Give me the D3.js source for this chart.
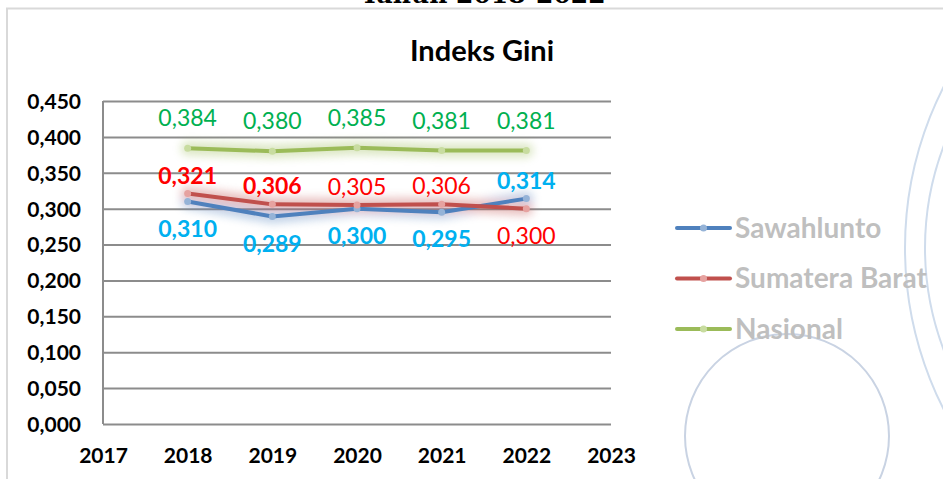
<!DOCTYPE html>
<html lang="id">
<head>
<meta charset="UTF-8">
<title>Indeks Gini</title>
<style>
    body { margin: 0; background: #fff; }
    svg { display: block; }
    text { font-family: Lato, "Open Sans", sans-serif; }
</style>
</head>
<body>
<svg id="chart"></svg>
<script src="https://d3js.org/d3.v7.min.js"></script>
<script>
    const years = [2018, 2019, 2020, 2021, 2022];
    const yTicks = [0, 0.05, 0.1, 0.15, 0.2, 0.25, 0.3, 0.35, 0.4, 0.45];
    const xTicks = [2017, 2018, 2019, 2020, 2021, 2022, 2023];

    const sawahlunto = [0.310, 0.289, 0.300, 0.295, 0.314];
    const sumbar = [0.321, 0.306, 0.305, 0.306, 0.300];
    const nasional = [0.384, 0.380, 0.385, 0.381, 0.381];

    // label placement per point: above / below, bold or not
    const sawahluntoPos = ["below", "below", "below", "below", "above"];
    const sumbarPos = ["above", "above", "above", "above", "below"];
    const sumbarBold = [true, true, false, false, false];

    const series = [
        { name: "Sawahlunto", values: sawahlunto, line: "#4f81bd", marker: "#95b3d7", label: "#00b0f0", pos: sawahluntoPos, bold: [true, true, true, true, true], up: 18 },
        { name: "Sumatera Barat", values: sumbar, line: "#c0504d", marker: "#e6a2a0", label: "#ff0000", pos: sumbarPos, bold: sumbarBold, up: 18 },
        { name: "Nasional", values: nasional, line: "#9bbb59", marker: "#c8dca0", label: "#00b050", pos: ["above", "above", "above", "above", "above"], bold: [false, false, false, false, false], up: 30 }
    ];

    const width = 943, height = 479;
    const svg = d3.select("#chart").attr("width", width).attr("height", height);

    const fmt = v => d3.format(".3f")(v).replace(".", ",");

    // blur filter for the soft glow
    const defs = svg.append("defs");
    defs.append("filter").attr("id", "glow")
        .attr("x", "-20%").attr("y", "-50%").attr("width", "140%").attr("height", "200%")
        .append("feGaussianBlur").attr("stdDeviation", 4);

    // decorative circles in the background
    const deco = svg.append("g").attr("fill", "none");
    deco.append("circle").attr("cx", 787).attr("cy", 436).attr("r", 102)
        .attr("stroke", "#c9d3e3").attr("stroke-width", 2);
    deco.append("circle").attr("cx", 1261).attr("cy", 248).attr("r", 356)
        .attr("stroke", "#cfdcec").attr("stroke-width", 2);
    deco.append("circle").attr("cx", 1212).attr("cy", 248).attr("r", 287)
        .attr("stroke", "#cfdcec").attr("stroke-width", 2);

    // chart frame
    svg.append("path")
        .attr("d", "M7,479 V8.5 H943")
        .attr("fill", "none").attr("stroke", "#d9d9d9").attr("stroke-width", 2);

    // clipped outer heading
    svg.append("text")
        .attr("x", 483).attr("y", 3)
        .attr("text-anchor", "middle")
        .style("font-family", "'DejaVu Serif', serif")
        .style("font-weight", "bold").style("font-size", "25px")
        .text("Tahun 2018-2022");

    svg.append("text")
        .attr("x", 482).attr("y", 61)
        .attr("text-anchor", "middle")
        .style("font-weight", "bold").style("font-size", "29px")
        .text("Indeks Gini");

    const x = d3.scaleLinear().domain([2017, 2023]).range([103, 611]);
    const y = d3.scaleLinear().domain([0, 0.45]).range([424, 101]);

    // gridlines
    svg.append("g")
        .attr("transform", "translate(103,0)")
        .call(d3.axisLeft(y).tickValues(yTicks).tickSize(-508).tickFormat(""))
        .call(g => g.select(".domain").remove())
        .call(g => g.selectAll("line").attr("stroke", "#8c8c8c").attr("stroke-width", 2));

    svg.append("line")
        .attr("x1", 103).attr("x2", 103).attr("y1", y(0.45)).attr("y2", y(0))
        .attr("stroke", "#8c8c8c").attr("stroke-width", 2);

    // y labels
    svg.append("g")
        .attr("transform", "translate(81,0)")
        .call(d3.axisLeft(y).tickValues(yTicks).tickSize(0).tickFormat(fmt))
        .call(g => g.select(".domain").remove())
        .call(g => g.selectAll("text")
            .attr("x", 0).attr("dy", "0.35em")
            .attr("fill", "#000")
            .style("font-family", "Lato, sans-serif")
            .style("font-weight", "bold").style("font-size", "21px"));

    // x labels
    svg.append("g")
        .attr("transform", "translate(0,445)")
        .call(d3.axisBottom(x).tickValues(xTicks).tickSize(0).tickFormat(d3.format("d")))
        .call(g => g.select(".domain").remove())
        .call(g => g.selectAll("text")
            .attr("dy", "0.71em")
            .attr("fill", "#000")
            .style("font-family", "Lato, sans-serif")
            .style("font-weight", "bold").style("font-size", "21px"));

    const line = d3.line().x((d, i) => x(years[i])).y(d => y(d));

    // glow layer
    const glow = svg.append("g").attr("filter", "url(#glow)").attr("opacity", 0.35);
    series.forEach(s => {
        glow.append("path").datum(s.values).attr("d", line)
            .attr("fill", "none").attr("stroke", s.line)
            .attr("stroke-width", 14).attr("stroke-linecap", "round");
    });

    series.forEach(s => {
        svg.append("path").datum(s.values).attr("d", line)
            .attr("fill", "none").attr("stroke", s.line)
            .attr("stroke-width", 4).attr("stroke-linejoin", "round");
        svg.append("g").selectAll("circle")
            .data(s.values).join("circle")
            .attr("cx", (d, i) => x(years[i])).attr("cy", d => y(d))
            .attr("r", 3.5).attr("fill", s.marker);
    });

    // data labels
    series.forEach(s => {
        svg.append("g").selectAll("text")
            .data(s.values).join("text")
            .attr("x", (d, i) => x(years[i]))
            .attr("y", (d, i) => s.pos[i] === "above" ? y(d) - s.up : y(d) + 27)
            .attr("dy", "0.35em")
            .attr("text-anchor", "middle")
            .attr("fill", s.label)
            .style("font-size", "23px")
            .style("font-weight", (d, i) => s.bold[i] ? "bold" : "normal")
            .text(fmt);
    });

    // legend
    const legend = svg.append("g");
    series.forEach((s, i) => {
        const ly = 228 + i * 50.5;
        legend.append("line")
            .attr("x1", 677).attr("x2", 730).attr("y1", ly).attr("y2", ly)
            .attr("stroke", s.line).attr("stroke-width", 4).attr("stroke-linecap", "round");
        legend.append("circle").attr("cx", 703.5).attr("cy", ly).attr("r", 3.5).attr("fill", s.marker);
        legend.append("text")
            .attr("x", 735).attr("y", ly).attr("dy", "0.35em")
            .attr("fill", "#bfbfbf")
            .style("font-weight", "bold").style("font-size", "28px")
            .text(s.name);
    });
</script>
</body>
</html>
